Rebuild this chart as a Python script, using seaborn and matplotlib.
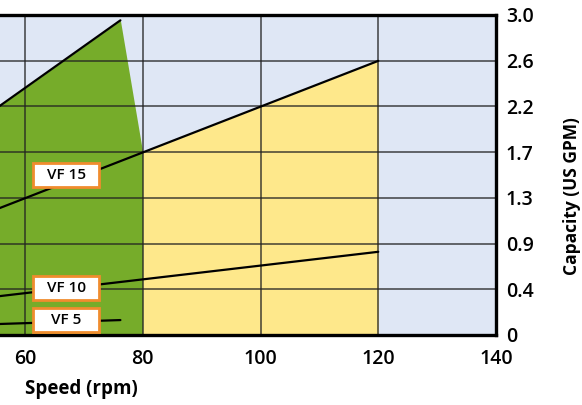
import matplotlib
matplotlib.use("Agg")
import matplotlib.pyplot as plt
from matplotlib.patches import Rectangle
import seaborn as sns
import pandas as pd

# ---- data ----
x_left, x_right = 55.75, 140
y_max = 3.0
x_ticks = [60, 80, 100, 120, 140]
y_ticks = [3.0 * i / 7 for i in range(8)]
y_tick_labels = ["0", "0.4", "0.9", "1.3", "1.7", "2.2", "2.6", "3.0"]

vf25_speed = [55.0, 76.2]
vf25_cap = [2.12, 2.95]
green_speed = [55.0, 76.2, 80]
green_cap = [2.12, 2.95, 1.71]
yellow_speed = [80, 120]
yellow_cap = [1.71, 2.57]
vf15_speed = [55.0, 120]
vf15_cap = [1.175, 2.57]
vf10_speed = [55.0, 120]
vf10_cap = [0.36, 0.78]
vf5_speed = [55.0, 76.2]
vf5_cap = [0.102, 0.14]

labels = ["VF 15", "VF 10", "VF 5"]
label_x = [67.0, 67.0, 67.0]
label_y = [1.50, 0.445, 0.14]

# ---- style ----
sns.set_theme(style="white")
plt.rcParams["font.family"] = ["Open Sans", "DejaVu Sans"]
plt.rcParams["text.color"] = "black"

BG = "#dfe7f5"
GREEN = "#76ac2a"
YELLOW = "#fee88b"
ORANGE = "#f08c2e"

fig = plt.figure(figsize=(5.82, 4.05), dpi=100)
ax = fig.add_axes([0.0, 1 - 335 / 405, 496 / 582, 320 / 405])
ax.set_facecolor(BG)

ax.fill_between(green_speed, 0, green_cap, color=GREEN, linewidth=0, zorder=1)
ax.fill_between(yellow_speed, 0, yellow_cap, color=YELLOW, linewidth=0, zorder=1)

for xs, ys in [(vf25_speed, vf25_cap), (vf15_speed, vf15_cap),
               (vf10_speed, vf10_cap), (vf5_speed, vf5_cap)]:
    df = pd.DataFrame({"speed": xs, "cap": ys})
    sns.lineplot(data=df, x="speed", y="cap", ax=ax, color="black",
                 linewidth=1.6, zorder=4, legend=False)

ax.set_xlim(x_left, x_right)
ax.set_ylim(0, y_max)
ax.set_xticks(x_ticks)
ax.set_xticklabels([str(v) for v in x_ticks])
ax.set_yticks(y_ticks)
ax.set_yticklabels(y_tick_labels)
ax.yaxis.tick_right()
ax.yaxis.set_label_position("right")
ax.tick_params(axis="both", length=0, labelsize=14, colors="black")
ax.tick_params(axis="x", pad=10)
ax.tick_params(axis="y", pad=7)
for lab in ax.get_xticklabels() + ax.get_yticklabels():
    lab.set_fontweight("semibold")

ax.grid(True, color="#222222", linewidth=1.1, alpha=0.85)
for gl in ax.get_xgridlines() + ax.get_ygridlines():
    gl.set_zorder(2)
ax.set_axisbelow(False)

for side in ["top", "bottom", "right"]:
    ax.spines[side].set_visible(True)
    ax.spines[side].set_color("black")
    ax.spines[side].set_linewidth(2.4)
    ax.spines[side].set_zorder(6)
ax.spines["left"].set_visible(False)

ax.set_xlabel("")
ax.set_ylabel("")

# label boxes
box_w = 66 / 5.875
box_h = 24 / (320 / 3.0)
for t, lx, ly in zip(labels, label_x, label_y):
    ax.add_patch(Rectangle((lx - box_w / 2, ly - box_h / 2), box_w, box_h,
                           facecolor="white", edgecolor=ORANGE, linewidth=2.0,
                           zorder=7))
    ax.text(lx, ly, t, ha="center", va="center", fontsize=11,
            fontweight="semibold", color="black", zorder=8)

fig.text(25 / 582, 1 - 389 / 405, "Speed (rpm)", ha="left", va="center",
         fontsize=13.5, fontweight="bold", color="black")
fig.text(572 / 582, 1 - 196 / 405, "Capacity (US GPM)", ha="center",
         va="center", rotation=90, fontsize=12.5, fontweight="bold",
         color="black")

fig.savefig("out.png", dpi=100)
